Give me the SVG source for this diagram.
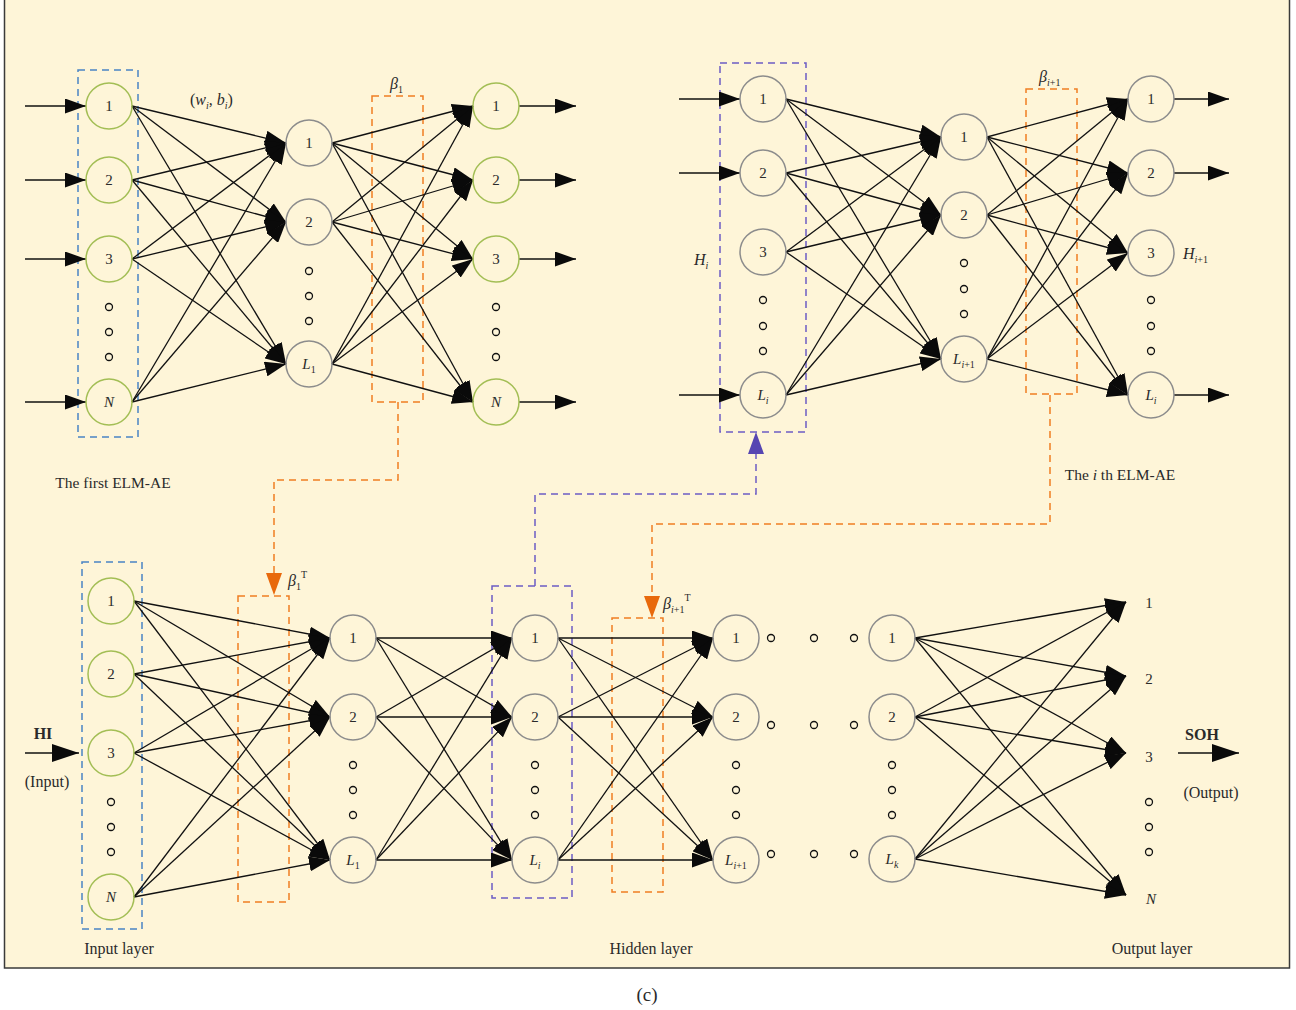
<svg xmlns="http://www.w3.org/2000/svg" width="1296" height="1010" viewBox="0 0 1296 1010">
<style>
  text { font-family: "Liberation Serif", "Times New Roman", serif; fill: #2a2a2a; }
  .lbl { font-size: 15px; text-anchor: middle; }
  .cap { font-size: 16px; text-anchor: middle; }
  .it { font-style: italic; }
  .sub { font-size: 10px; }
  .g { fill: none; stroke: #a3be55; stroke-width: 1.5; }
  .n { fill: none; stroke: #8c8c8c; stroke-width: 1.5; }
  .dot { fill: none; stroke: #111; stroke-width: 1.3; }
  .edge { stroke: #111; stroke-width: 1.3; fill: none; marker-end: url(#ah); }
  .io { stroke: #111; stroke-width: 1.5; fill: none; marker-end: url(#ah); }
  .big { stroke: #111; stroke-width: 1.5; fill: none; marker-end: url(#bigah); }
  .bbox { fill: none; stroke: #4a84c4; stroke-width: 1.5; stroke-dasharray: 7 5; }
  .obox { fill: none; stroke: #ef7d22; stroke-width: 1.5; stroke-dasharray: 7 5; }
  .pbox { fill: none; stroke: #6c5cc4; stroke-width: 1.5; stroke-dasharray: 7 5; }
  .olink { fill: none; stroke: #ef7d22; stroke-width: 1.5; stroke-dasharray: 7 5; }
  .plink { fill: none; stroke: #6c5cc4; stroke-width: 1.5; stroke-dasharray: 7 5; }
</style>
<defs>
  <marker id="ah" markerUnits="userSpaceOnUse" markerWidth="21" markerHeight="15" refX="21" refY="7.5" orient="auto">
    <path d="M0,0 L21,7.5 L0,15 z" fill="#0a0a0a"/>
  </marker>
  <marker id="bigah" markerUnits="userSpaceOnUse" markerWidth="27" markerHeight="18" refX="27" refY="9" orient="auto">
    <path d="M0,0 L27,9 L0,18 z" fill="#0a0a0a"/>
  </marker>
</defs>

<!-- panel background -->
<rect x="4.5" y="-2" width="1285" height="970" fill="#fef5d8" stroke="#3a3a3a" stroke-width="1.5"/>
<text x="647" y="1001" style="font-size:19px;text-anchor:middle">(c)</text>

<!-- dashed grouping boxes -->
<g id="boxes">
  <rect class="bbox" x="78" y="70" width="60" height="367"/>
  <rect class="obox" x="372" y="96" width="51" height="306"/>
  <rect class="pbox" x="720" y="63" width="86" height="369"/>
  <rect class="obox" x="1026" y="89" width="51" height="305"/>
  <rect class="bbox" x="82" y="562" width="60" height="367"/>
  <rect class="obox" x="238" y="596" width="51" height="306"/>
  <rect class="pbox" x="492" y="586" width="80" height="312"/>
  <rect class="obox" x="612" y="618" width="51" height="274"/>
</g>

<!-- weight transfer links between autoencoders and the stacked network -->
<g id="links">
  <path class="olink" d="M398,402 V480 H274 V574"/>
  <polygon points="266,573 282,573 274,595" fill="#e8690c"/>
  <path class="plink" d="M535,586 V494 H756 V454"/>
  <polygon points="748,454 764,454 756,432" fill="#5646b2"/>
  <path class="olink" d="M1050,395 V524 H652 V597"/>
  <polygon points="644,596 660,596 652,618" fill="#e8690c"/>
</g>

<g id="connectors">
  <!-- first ELM-AE: input -> hidden -->
  <path class="edge" d="M132,106 L286,143"/><path class="edge" d="M132,106 L286,222"/><path class="edge" d="M132,106 L286,364"/>
  <path class="edge" d="M132,180 L286,143"/><path class="edge" d="M132,180 L286,222"/><path class="edge" d="M132,180 L286,364"/>
  <path class="edge" d="M132,259 L286,143"/><path class="edge" d="M132,259 L286,222"/><path class="edge" d="M132,259 L286,364"/>
  <path class="edge" d="M132,402 L286,143"/><path class="edge" d="M132,402 L286,222"/><path class="edge" d="M132,402 L286,364"/>
  <!-- first ELM-AE: hidden -> output -->
  <path class="edge" d="M332,143 L473,106"/><path class="edge" d="M332,143 L473,180"/><path class="edge" d="M332,143 L473,259"/><path class="edge" d="M332,143 L473,402"/>
  <path class="edge" d="M332,222 L473,106"/><path class="edge" d="M332,222 L473,180"/><path class="edge" d="M332,222 L473,259"/><path class="edge" d="M332,222 L473,402"/>
  <path class="edge" d="M332,364 L473,106"/><path class="edge" d="M332,364 L473,180"/><path class="edge" d="M332,364 L473,259"/><path class="edge" d="M332,364 L473,402"/>
  <!-- first ELM-AE: in/out arrows -->
  <path class="io" d="M25,106 H86"/><path class="io" d="M25,180 H86"/><path class="io" d="M25,259 H86"/><path class="io" d="M25,402 H86"/>
  <path class="io" d="M519,106 H576"/><path class="io" d="M519,180 H576"/><path class="io" d="M519,259 H576"/><path class="io" d="M519,402 H576"/>

  <!-- i-th ELM-AE: input -> hidden -->
  <path class="edge" d="M786,99 L941,137"/><path class="edge" d="M786,99 L941,215"/><path class="edge" d="M786,99 L941,359"/>
  <path class="edge" d="M786,173 L941,137"/><path class="edge" d="M786,173 L941,215"/><path class="edge" d="M786,173 L941,359"/>
  <path class="edge" d="M786,252 L941,137"/><path class="edge" d="M786,252 L941,215"/><path class="edge" d="M786,252 L941,359"/>
  <path class="edge" d="M786,395 L941,137"/><path class="edge" d="M786,395 L941,215"/><path class="edge" d="M786,395 L941,359"/>
  <!-- i-th ELM-AE: hidden -> output -->
  <path class="edge" d="M987,137 L1128,99"/><path class="edge" d="M987,137 L1128,173"/><path class="edge" d="M987,137 L1128,253"/><path class="edge" d="M987,137 L1128,395"/>
  <path class="edge" d="M987,215 L1128,99"/><path class="edge" d="M987,215 L1128,173"/><path class="edge" d="M987,215 L1128,253"/><path class="edge" d="M987,215 L1128,395"/>
  <path class="edge" d="M987,359 L1128,99"/><path class="edge" d="M987,359 L1128,173"/><path class="edge" d="M987,359 L1128,253"/><path class="edge" d="M987,359 L1128,395"/>
  <!-- i-th ELM-AE: in/out arrows -->
  <path class="io" d="M679,99 H740"/><path class="io" d="M679,173 H740"/><path class="io" d="M679,395 H740"/>
  <path class="io" d="M1174,99 H1229"/><path class="io" d="M1174,173 H1229"/><path class="io" d="M1174,395 H1229"/>

  <!-- stacked network: input -> hidden 1 -->
  <path class="edge" d="M134,601 L330,638"/><path class="edge" d="M134,601 L330,717"/><path class="edge" d="M134,601 L330,860"/>
  <path class="edge" d="M134,674 L330,638"/><path class="edge" d="M134,674 L330,717"/><path class="edge" d="M134,674 L330,860"/>
  <path class="edge" d="M134,753 L330,638"/><path class="edge" d="M134,753 L330,717"/><path class="edge" d="M134,753 L330,860"/>
  <path class="edge" d="M134,897 L330,638"/><path class="edge" d="M134,897 L330,717"/><path class="edge" d="M134,897 L330,860"/>
  <!-- hidden 1 -> hidden i -->
  <path class="edge" d="M376,638 L512,638"/><path class="edge" d="M376,638 L512,717"/><path class="edge" d="M376,638 L512,860"/>
  <path class="edge" d="M376,717 L512,638"/><path class="edge" d="M376,717 L512,717"/><path class="edge" d="M376,717 L512,860"/>
  <path class="edge" d="M376,860 L512,638"/><path class="edge" d="M376,860 L512,717"/><path class="edge" d="M376,860 L512,860"/>
  <!-- hidden i -> hidden i+1 -->
  <path class="edge" d="M558,638 L713,638"/><path class="edge" d="M558,638 L713,717"/><path class="edge" d="M558,638 L713,860"/>
  <path class="edge" d="M558,717 L713,638"/><path class="edge" d="M558,717 L713,717"/><path class="edge" d="M558,717 L713,860"/>
  <path class="edge" d="M558,860 L713,638"/><path class="edge" d="M558,860 L713,717"/><path class="edge" d="M558,860 L713,860"/>
  <!-- hidden k -> output -->
  <path class="edge" d="M915,638 L1126,602"/><path class="edge" d="M915,638 L1126,676"/><path class="edge" d="M915,638 L1126,753"/><path class="edge" d="M915,638 L1126,895"/>
  <path class="edge" d="M915,717 L1126,602"/><path class="edge" d="M915,717 L1126,676"/><path class="edge" d="M915,717 L1126,753"/><path class="edge" d="M915,717 L1126,895"/>
  <path class="edge" d="M915,859 L1126,602"/><path class="edge" d="M915,859 L1126,676"/><path class="edge" d="M915,859 L1126,753"/><path class="edge" d="M915,859 L1126,895"/>
  <!-- HI in, SOH out -->
  <path class="big" d="M25,753 H79"/>
  <path class="big" d="M1178,753 H1239"/>
</g>

<!-- first ELM-AE nodes -->
<g id="ae1-in-1"><circle class="g" cx="109" cy="106" r="23"/><text class="lbl" x="109" y="111">1</text></g>
<g id="ae1-in-2"><circle class="g" cx="109" cy="180" r="23"/><text class="lbl" x="109" y="185">2</text></g>
<g id="ae1-in-3"><circle class="g" cx="109" cy="259" r="23"/><text class="lbl" x="109" y="264">3</text></g>
<g id="ae1-in-N"><circle class="g" cx="109" cy="402" r="23"/><text class="lbl it" x="109" y="407">N</text></g>
<g id="ae1-hid-1"><circle class="n" cx="309" cy="143" r="23"/><text class="lbl" x="309" y="148">1</text></g>
<g id="ae1-hid-2"><circle class="n" cx="309" cy="222" r="23"/><text class="lbl" x="309" y="227">2</text></g>
<g id="ae1-hid-L"><circle class="n" cx="309" cy="364" r="23"/><text class="lbl" x="309" y="369"><tspan class="it">L</tspan><tspan class="sub" dy="4">1</tspan></text></g>
<g id="ae1-out-1"><circle class="g" cx="496" cy="106" r="23"/><text class="lbl" x="496" y="111">1</text></g>
<g id="ae1-out-2"><circle class="g" cx="496" cy="180" r="23"/><text class="lbl" x="496" y="185">2</text></g>
<g id="ae1-out-3"><circle class="g" cx="496" cy="259" r="23"/><text class="lbl" x="496" y="264">3</text></g>
<g id="ae1-out-N"><circle class="g" cx="496" cy="402" r="23"/><text class="lbl it" x="496" y="407">N</text></g>

<!-- i-th ELM-AE nodes -->
<g id="aei-in-1"><circle class="n" cx="763" cy="99" r="23"/><text class="lbl" x="763" y="104">1</text></g>
<g id="aei-in-2"><circle class="n" cx="763" cy="173" r="23"/><text class="lbl" x="763" y="178">2</text></g>
<g id="aei-in-3"><circle class="n" cx="763" cy="252" r="23"/><text class="lbl" x="763" y="257">3</text></g>
<g id="aei-in-L"><circle class="n" cx="763" cy="395" r="23"/><text class="lbl" x="763" y="400"><tspan class="it">L</tspan><tspan class="sub it" dy="4">i</tspan></text></g>
<g id="aei-hid-1"><circle class="n" cx="964" cy="137" r="23"/><text class="lbl" x="964" y="142">1</text></g>
<g id="aei-hid-2"><circle class="n" cx="964" cy="215" r="23"/><text class="lbl" x="964" y="220">2</text></g>
<g id="aei-hid-L"><circle class="n" cx="964" cy="359" r="23"/><text class="lbl" x="964" y="364"><tspan class="it">L</tspan><tspan class="sub" dy="4"><tspan class="it">i</tspan>+1</tspan></text></g>
<g id="aei-out-1"><circle class="n" cx="1151" cy="99" r="23"/><text class="lbl" x="1151" y="104">1</text></g>
<g id="aei-out-2"><circle class="n" cx="1151" cy="173" r="23"/><text class="lbl" x="1151" y="178">2</text></g>
<g id="aei-out-3"><circle class="n" cx="1151" cy="253" r="23"/><text class="lbl" x="1151" y="258">3</text></g>
<g id="aei-out-L"><circle class="n" cx="1151" cy="395" r="23"/><text class="lbl" x="1151" y="400"><tspan class="it">L</tspan><tspan class="sub it" dy="4">i</tspan></text></g>

<!-- stacked network nodes -->
<g id="in-1"><circle class="g" cx="111" cy="601" r="23"/><text class="lbl" x="111" y="606">1</text></g>
<g id="in-2"><circle class="g" cx="111" cy="674" r="23"/><text class="lbl" x="111" y="679">2</text></g>
<g id="in-3"><circle class="g" cx="111" cy="753" r="23"/><text class="lbl" x="111" y="758">3</text></g>
<g id="in-N"><circle class="g" cx="111" cy="897" r="23"/><text class="lbl it" x="111" y="902">N</text></g>
<g id="h1-1"><circle class="n" cx="353" cy="638" r="23"/><text class="lbl" x="353" y="643">1</text></g>
<g id="h1-2"><circle class="n" cx="353" cy="717" r="23"/><text class="lbl" x="353" y="722">2</text></g>
<g id="h1-L"><circle class="n" cx="353" cy="860" r="23"/><text class="lbl" x="353" y="865"><tspan class="it">L</tspan><tspan class="sub" dy="4">1</tspan></text></g>
<g id="hi-1"><circle class="n" cx="535" cy="638" r="23"/><text class="lbl" x="535" y="643">1</text></g>
<g id="hi-2"><circle class="n" cx="535" cy="717" r="23"/><text class="lbl" x="535" y="722">2</text></g>
<g id="hi-L"><circle class="n" cx="535" cy="860" r="23"/><text class="lbl" x="535" y="865"><tspan class="it">L</tspan><tspan class="sub it" dy="4">i</tspan></text></g>
<g id="hi1-1"><circle class="n" cx="736" cy="638" r="23"/><text class="lbl" x="736" y="643">1</text></g>
<g id="hi1-2"><circle class="n" cx="736" cy="717" r="23"/><text class="lbl" x="736" y="722">2</text></g>
<g id="hi1-L"><circle class="n" cx="736" cy="860" r="23"/><text class="lbl" x="736" y="865"><tspan class="it">L</tspan><tspan class="sub" dy="4"><tspan class="it">i</tspan>+1</tspan></text></g>
<g id="hk-1"><circle class="n" cx="892" cy="638" r="23"/><text class="lbl" x="892" y="643">1</text></g>
<g id="hk-2"><circle class="n" cx="892" cy="717" r="23"/><text class="lbl" x="892" y="722">2</text></g>
<g id="hk-L"><circle class="n" cx="892" cy="859" r="23"/><text class="lbl" x="892" y="864"><tspan class="it">L</tspan><tspan class="sub it" dy="4">k</tspan></text></g>
<g id="out-1"><text class="lbl" x="1149" y="608">1</text></g>
<g id="out-2"><text class="lbl" x="1149" y="684">2</text></g>
<g id="out-3"><text class="lbl" x="1149" y="762">3</text></g>
<g id="out-N"><text class="lbl it" x="1151" y="904">N</text></g>

<!-- ellipsis dots -->
<g id="ellipses">
  <circle class="dot" cx="109" cy="307" r="3.5"/><circle class="dot" cx="109" cy="332" r="3.5"/><circle class="dot" cx="109" cy="357" r="3.5"/>
  <circle class="dot" cx="309" cy="271" r="3.5"/><circle class="dot" cx="309" cy="296" r="3.5"/><circle class="dot" cx="309" cy="321" r="3.5"/>
  <circle class="dot" cx="496" cy="307" r="3.5"/><circle class="dot" cx="496" cy="332" r="3.5"/><circle class="dot" cx="496" cy="357" r="3.5"/>
  <circle class="dot" cx="763" cy="300" r="3.5"/><circle class="dot" cx="763" cy="326" r="3.5"/><circle class="dot" cx="763" cy="351" r="3.5"/>
  <circle class="dot" cx="964" cy="263" r="3.5"/><circle class="dot" cx="964" cy="289" r="3.5"/><circle class="dot" cx="964" cy="314" r="3.5"/>
  <circle class="dot" cx="1151" cy="300" r="3.5"/><circle class="dot" cx="1151" cy="326" r="3.5"/><circle class="dot" cx="1151" cy="351" r="3.5"/>
  <circle class="dot" cx="111" cy="802" r="3.5"/><circle class="dot" cx="111" cy="827" r="3.5"/><circle class="dot" cx="111" cy="852" r="3.5"/>
  <circle class="dot" cx="353" cy="765" r="3.5"/><circle class="dot" cx="353" cy="790" r="3.5"/><circle class="dot" cx="353" cy="815" r="3.5"/>
  <circle class="dot" cx="535" cy="765" r="3.5"/><circle class="dot" cx="535" cy="790" r="3.5"/><circle class="dot" cx="535" cy="815" r="3.5"/>
  <circle class="dot" cx="736" cy="765" r="3.5"/><circle class="dot" cx="736" cy="790" r="3.5"/><circle class="dot" cx="736" cy="815" r="3.5"/>
  <circle class="dot" cx="892" cy="765" r="3.5"/><circle class="dot" cx="892" cy="790" r="3.5"/><circle class="dot" cx="892" cy="815" r="3.5"/>
  <circle class="dot" cx="1149" cy="802" r="3.5"/><circle class="dot" cx="1149" cy="827" r="3.5"/><circle class="dot" cx="1149" cy="852" r="3.5"/>
  <circle class="dot" cx="771" cy="638" r="3.5"/><circle class="dot" cx="814" cy="638" r="3.5"/><circle class="dot" cx="854" cy="638" r="3.5"/>
  <circle class="dot" cx="771" cy="725" r="3.5"/><circle class="dot" cx="814" cy="725" r="3.5"/><circle class="dot" cx="854" cy="725" r="3.5"/>
  <circle class="dot" cx="771" cy="854" r="3.5"/><circle class="dot" cx="814" cy="854" r="3.5"/><circle class="dot" cx="854" cy="854" r="3.5"/>
</g>

<!-- annotations -->
<g id="labels">
  <text x="190" y="105" style="font-size:16px">(<tspan class="it">w</tspan><tspan class="sub it" dy="4">i</tspan><tspan dy="-4">, </tspan><tspan class="it">b</tspan><tspan class="sub it" dy="4">i</tspan><tspan dy="-4">)</tspan></text>
  <text x="390" y="89" style="font-size:16px"><tspan class="it">β</tspan><tspan class="sub" dy="4">1</tspan></text>
  <text x="1039" y="82" style="font-size:16px"><tspan class="it">β</tspan><tspan class="sub" dy="4"><tspan class="it">i</tspan>+1</tspan></text>
  <text x="694" y="265" style="font-size:16px"><tspan class="it">H</tspan><tspan class="sub it" dy="4">i</tspan></text>
  <text x="1183" y="259" style="font-size:16px"><tspan class="it">H</tspan><tspan class="sub" dy="4"><tspan class="it">i</tspan>+1</tspan></text>
  <text class="lbl" x="113" y="488" style="font-size:15.5px">The first ELM-AE</text>
  <text class="lbl" x="1120" y="480" style="font-size:15.5px">The <tspan class="it">i</tspan> th ELM-AE</text>
  <text x="288" y="586" style="font-size:16px"><tspan class="it">β</tspan><tspan class="sub" dy="4">1</tspan><tspan class="sub" dy="-12">T</tspan></text>
  <text x="663" y="609" style="font-size:16px"><tspan class="it">β</tspan><tspan class="sub" dy="4"><tspan class="it">i</tspan>+1</tspan><tspan class="sub" dy="-12">T</tspan></text>
  <text class="cap" x="43" y="739" style="font-weight:bold">HI</text>
  <text class="cap" x="47" y="787">(Input)</text>
  <text class="cap" x="1202" y="740" style="font-weight:bold">SOH</text>
  <text class="cap" x="1211" y="798">(Output)</text>
  <text class="cap" x="119" y="954">Input layer</text>
  <text class="cap" x="651" y="954">Hidden layer</text>
  <text class="cap" x="1152" y="954">Output layer</text>
</g>
</svg>
